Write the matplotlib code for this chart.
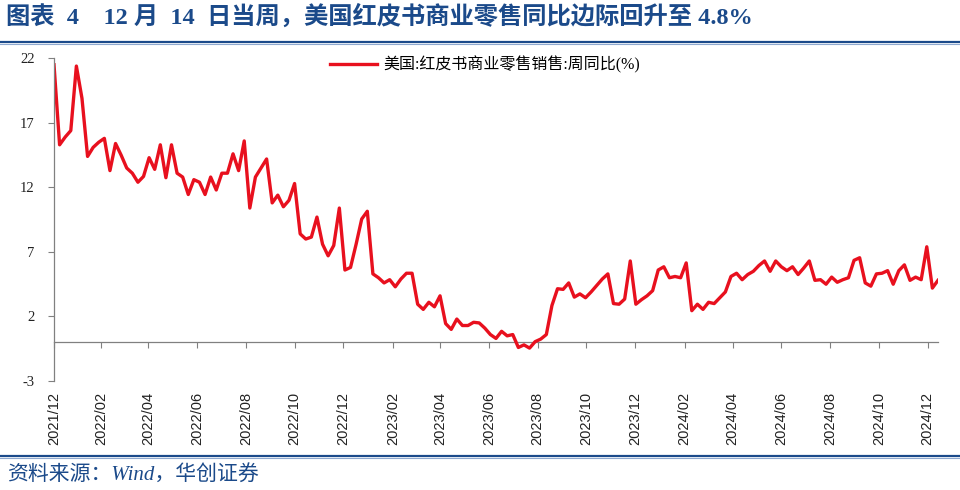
import matplotlib
matplotlib.use("Agg")
import matplotlib.pyplot as plt
import matplotlib.dates as mdates
from matplotlib.lines import Line2D
from matplotlib.font_manager import FontProperties
import numpy as np
import pandas as pd

# weekly Redbook same-store sales, YoY (%), weeks ending Saturday
weeks = pd.date_range("2021-12-04", periods=159, freq="7D")
values = [
    21.5, 15.3, 15.9, 16.4, 21.4, 18.9, 14.4, 15.1, 15.5, 15.8,
    13.3, 15.4, 14.5, 13.5, 13.1, 12.4, 12.85, 14.3, 13.4, 15.3,
    12.75, 15.3, 13.1, 12.8, 11.45, 12.6, 12.4, 11.45, 12.8, 11.8,
    13.1, 13.1, 14.6, 13.3, 15.6, 10.4, 12.8, 13.5, 14.2, 10.8,
    11.4, 10.5, 11.0, 12.3, 8.4, 8.0, 8.15, 9.7, 7.6, 6.7,
    7.5, 10.4, 5.6, 5.8, 7.6, 9.55, 10.15, 5.3, 5.0, 4.6,
    4.85, 4.3, 4.9, 5.35, 5.35, 2.95, 2.55, 3.1, 2.75, 3.6,
    1.45, 1.0, 1.8, 1.3, 1.3, 1.55, 1.5, 1.1, 0.6, 0.3,
    0.85, 0.5, 0.6, -0.4, -0.2, -0.45, 0.05, 0.25, 0.6, 2.85,
    4.15, 4.1, 4.6, 3.5, 3.75, 3.45, 3.9, 4.4, 4.9, 5.3,
    3.0, 2.95, 3.35, 6.3, 2.95, 3.3, 3.6,
    4.0, 5.6, 5.85, 5.0, 5.1, 5.0, 6.15, 2.45, 2.95, 2.55,
    3.1, 3.0, 3.45, 3.9, 5.1, 5.35, 4.85, 5.25, 5.5, 5.95,
    6.3, 5.5, 6.3, 5.85, 5.55, 5.85, 5.25, 5.75, 6.3, 4.8,
    4.85, 4.5, 5.05, 4.65, 4.85, 5.0, 6.35, 6.55, 4.6, 4.35,
    5.3, 5.35, 5.55, 4.5, 5.55, 6.0, 4.8, 5.05, 4.85, 7.4,
    4.2, 4.8,
]
tick_labels = ["2021/12", "2022/02", "2022/04", "2022/06", "2022/08", "2022/10",
               "2022/12", "2023/02", "2023/04", "2023/06", "2023/08", "2023/10",
               "2023/12", "2024/02", "2024/04", "2024/06", "2024/08", "2024/10",
               "2024/12"]
y_ticks = [-3, 2, 7, 12, 17, 22]

series_name = "美国:红皮书商业零售销售:周同比(%)"
title = "图表  4    12 月  14  日当周，美国红皮书商业零售同比边际回升至 4.8%"
source = "资料来源：Wind，华创证券"

blue = "#1B4A8A"
grey = "#808080"
red = "#E8101E"
serif_cjk = ["Liberation Serif", "Noto Sans CJK SC"]

fig = plt.figure(figsize=(9.6, 4.9), dpi=100)
ax = fig.add_axes([0.05625, 0.2224, 0.9208, 0.6586])

x = mdates.date2num(weeks)
ax.plot(x, values, color=red, lw=2.4, solid_joinstyle="round", label=series_name)
ax.set_xlim(x[0], x[-1])
ax.set_ylim(y_ticks[0], y_ticks[-1])
ax.set_yticks(y_ticks)
ax.set_yticklabels([str(v) for v in y_ticks], family="Liberation Serif", fontsize=10.5, color="#222222")

# first label sits at the axis start, the rest on month starts
tick_x = [x[0]] + [mdates.date2num(pd.Timestamp(t.replace("/", "-") + "-01")) for t in tick_labels[1:]]
ax.set_xticks(tick_x)
ax.set_xticklabels(tick_labels, rotation=90, family="Liberation Sans", fontsize=10.5, color="#222222")
ax.tick_params(axis="x", length=0, pad=8)
ax.tick_params(axis="y", direction="out", length=4, width=0.8, color=grey, pad=10)

for s in ["top", "right", "bottom"]:
    ax.spines[s].set_visible(False)
ax.spines["left"].set_color(grey)
ax.spines["left"].set_linewidth(0.9)

# x axis line crossing at zero with its tick marks
zero_loc = (0 - y_ticks[0]) / (y_ticks[-1] - y_ticks[0])
secax = ax.secondary_xaxis(zero_loc)
secax.set_xticks(tick_x)
secax.set_xticklabels([])
secax.tick_params(direction="out", length=4, width=0.8, color=grey)
secax.spines["bottom"].set_color(grey)
secax.spines["bottom"].set_linewidth(0.9)

ax.legend(loc="center", bbox_to_anchor=(485 / 960, 1 - 65 / 490), bbox_transform=fig.transFigure,
          frameon=False, prop=FontProperties(family=serif_cjk, size=11.5),
          handlelength=2.9, handletextpad=0.4)

# header / footer
fig.text(0.006, 1 - 17 / 490, title, family=serif_cjk, fontsize=17.5, fontweight="bold",
         color=blue, va="center", ha="left")
for yp in (42, 456):
    fig.add_artist(Line2D([0, 1], [1 - yp / 490] * 2, transform=fig.transFigure, color=blue, lw=1.6))
    fig.add_artist(Line2D([0, 1], [1 - (yp + 2.2) / 490] * 2, transform=fig.transFigure,
                          color="#8FA9D0", lw=0.8))
fig.text(0.007, 1 - 475 / 490, source, family=serif_cjk, style="italic", fontsize=15,
         color=blue, va="center", ha="left")

fig.savefig("out.png", dpi=100)
